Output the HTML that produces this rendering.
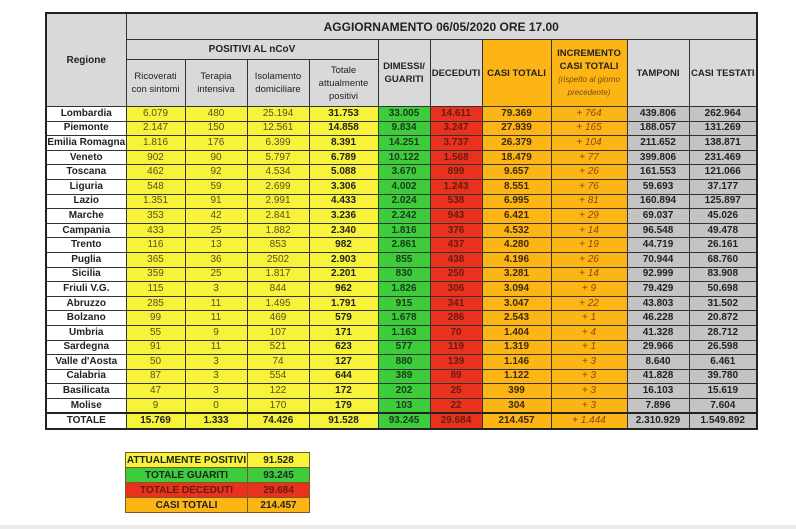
<!DOCTYPE html>
<html><head><meta charset="utf-8"><style>
body{margin:0;width:796px;height:529px;background:#fff;position:relative;overflow:hidden;font-family:"Liberation Sans",sans-serif;}
table{border-collapse:collapse;table-layout:fixed;position:absolute;}
#t{left:45px;top:12px;width:711px;border:2px solid #222;}
#t td{border:1px solid #333;text-align:center;padding:0;font-size:10px;color:#333;overflow:hidden;white-space:nowrap;}
.h{background:#d9d9d9;font-weight:bold;color:#222 !important;}
.hs{background:#d9d9d9;font-weight:bold;white-space:normal !important;line-height:13px;color:#222 !important;font-size:9.5px !important;}
.r{background:#fff;font-weight:bold;color:#222 !important;}
.y{background:#f7f33a;color:#5a5020 !important;}
.yb{background:#f7f33a;font-weight:bold;color:#222 !important;}
.g{background:#3ccc3c;font-weight:bold;color:#1a3a1a !important;}
.d{background:#e8321e;font-weight:bold;color:#6a1a10 !important;}
.o{background:#fdb515;font-weight:bold;color:#3a2a10 !important;}
.oh{background:#fdb515;font-weight:bold;}
.i{background:#fdb515;font-style:italic;color:#8a4a10 !important;}
.gr{background:#c4c4c4;font-weight:bold;color:#222 !important;}
#t tr.dr td{height:13.6px;line-height:12px;}
#b{left:125px;top:452px;width:184px;border:1.5px solid #7a5a20;}
#b td{border:1px solid #7a5a20;height:14px;font-size:10px;font-weight:bold;text-align:center;padding:0;color:#222;}
</style></head><body>
<table id="t">
<colgroup><col style="width:80px"><col style="width:59px"><col style="width:62px"><col style="width:62px"><col style="width:69px"><col style="width:52px"><col style="width:52px"><col style="width:69px"><col style="width:76px"><col style="width:62px"><col style="width:68px"></colgroup>
<tr><td class="h" rowspan="3" style="font-size:10px">Regione</td><td class="h" colspan="10" style="height:25px;font-size:12px">AGGIORNAMENTO 06/05/2020 ORE 17.00</td></tr>
<tr><td class="h" colspan="4" style="height:19px">POSITIVI AL nCoV</td><td class="hs" rowspan="2">DIMESSI/<br>GUARITI</td><td class="hs" rowspan="2">DECEDUTI</td><td class="hs oh" rowspan="2">CASI TOTALI</td><td class="hs oh" rowspan="2">INCREMENTO<br>CASI TOTALI<br><span style="font-weight:normal;font-style:italic;font-size:8px;line-height:11px;color:#7a4a10">(rispetto al giorno<br>precedente)</span></td><td class="hs" rowspan="2">TAMPONI</td><td class="hs" rowspan="2" style="white-space:nowrap !important">CASI TESTATI</td></tr>
<tr><td class="hs" style="height:46px;font-weight:normal">Ricoverati<br>con sintomi</td><td class="hs" style="font-weight:normal">Terapia<br>intensiva</td><td class="hs" style="font-weight:normal">Isolamento<br>domiciliare</td><td class="hs" style="font-weight:normal">Totale<br>attualmente<br>positivi</td></tr>
<tr class="dr"><td class="r">Lombardia</td><td class="y">6.079</td><td class="y">480</td><td class="y">25.194</td><td class="yb">31.753</td><td class="g">33.005</td><td class="d">14.611</td><td class="o">79.369</td><td class="i">+ 764</td><td class="gr">439.806</td><td class="gr">262.964</td></tr>
<tr class="dr"><td class="r">Piemonte</td><td class="y">2.147</td><td class="y">150</td><td class="y">12.561</td><td class="yb">14.858</td><td class="g">9.834</td><td class="d">3.247</td><td class="o">27.939</td><td class="i">+ 165</td><td class="gr">188.057</td><td class="gr">131.269</td></tr>
<tr class="dr"><td class="r">Emilia Romagna</td><td class="y">1.816</td><td class="y">176</td><td class="y">6.399</td><td class="yb">8.391</td><td class="g">14.251</td><td class="d">3.737</td><td class="o">26.379</td><td class="i">+ 104</td><td class="gr">211.652</td><td class="gr">138.871</td></tr>
<tr class="dr"><td class="r">Veneto</td><td class="y">902</td><td class="y">90</td><td class="y">5.797</td><td class="yb">6.789</td><td class="g">10.122</td><td class="d">1.568</td><td class="o">18.479</td><td class="i">+ 77</td><td class="gr">399.806</td><td class="gr">231.469</td></tr>
<tr class="dr"><td class="r">Toscana</td><td class="y">462</td><td class="y">92</td><td class="y">4.534</td><td class="yb">5.088</td><td class="g">3.670</td><td class="d">899</td><td class="o">9.657</td><td class="i">+ 26</td><td class="gr">161.553</td><td class="gr">121.066</td></tr>
<tr class="dr"><td class="r">Liguria</td><td class="y">548</td><td class="y">59</td><td class="y">2.699</td><td class="yb">3.306</td><td class="g">4.002</td><td class="d">1.243</td><td class="o">8.551</td><td class="i">+ 76</td><td class="gr">59.693</td><td class="gr">37.177</td></tr>
<tr class="dr"><td class="r">Lazio</td><td class="y">1.351</td><td class="y">91</td><td class="y">2.991</td><td class="yb">4.433</td><td class="g">2.024</td><td class="d">538</td><td class="o">6.995</td><td class="i">+ 81</td><td class="gr">160.894</td><td class="gr">125.897</td></tr>
<tr class="dr"><td class="r">Marche</td><td class="y">353</td><td class="y">42</td><td class="y">2.841</td><td class="yb">3.236</td><td class="g">2.242</td><td class="d">943</td><td class="o">6.421</td><td class="i">+ 29</td><td class="gr">69.037</td><td class="gr">45.026</td></tr>
<tr class="dr"><td class="r">Campania</td><td class="y">433</td><td class="y">25</td><td class="y">1.882</td><td class="yb">2.340</td><td class="g">1.816</td><td class="d">376</td><td class="o">4.532</td><td class="i">+ 14</td><td class="gr">96.548</td><td class="gr">49.478</td></tr>
<tr class="dr"><td class="r">Trento</td><td class="y">116</td><td class="y">13</td><td class="y">853</td><td class="yb">982</td><td class="g">2.861</td><td class="d">437</td><td class="o">4.280</td><td class="i">+ 19</td><td class="gr">44.719</td><td class="gr">26.161</td></tr>
<tr class="dr"><td class="r">Puglia</td><td class="y">365</td><td class="y">36</td><td class="y">2502</td><td class="yb">2.903</td><td class="g">855</td><td class="d">438</td><td class="o">4.196</td><td class="i">+ 26</td><td class="gr">70.944</td><td class="gr">68.760</td></tr>
<tr class="dr"><td class="r">Sicilia</td><td class="y">359</td><td class="y">25</td><td class="y">1.817</td><td class="yb">2.201</td><td class="g">830</td><td class="d">250</td><td class="o">3.281</td><td class="i">+ 14</td><td class="gr">92.999</td><td class="gr">83.908</td></tr>
<tr class="dr"><td class="r">Friuli V.G.</td><td class="y">115</td><td class="y">3</td><td class="y">844</td><td class="yb">962</td><td class="g">1.826</td><td class="d">306</td><td class="o">3.094</td><td class="i">+ 9</td><td class="gr">79.429</td><td class="gr">50.698</td></tr>
<tr class="dr"><td class="r">Abruzzo</td><td class="y">285</td><td class="y">11</td><td class="y">1.495</td><td class="yb">1.791</td><td class="g">915</td><td class="d">341</td><td class="o">3.047</td><td class="i">+ 22</td><td class="gr">43.803</td><td class="gr">31.502</td></tr>
<tr class="dr"><td class="r">Bolzano</td><td class="y">99</td><td class="y">11</td><td class="y">469</td><td class="yb">579</td><td class="g">1.678</td><td class="d">286</td><td class="o">2.543</td><td class="i">+ 1</td><td class="gr">46.228</td><td class="gr">20.872</td></tr>
<tr class="dr"><td class="r">Umbria</td><td class="y">55</td><td class="y">9</td><td class="y">107</td><td class="yb">171</td><td class="g">1.163</td><td class="d">70</td><td class="o">1.404</td><td class="i">+ 4</td><td class="gr">41.328</td><td class="gr">28.712</td></tr>
<tr class="dr"><td class="r">Sardegna</td><td class="y">91</td><td class="y">11</td><td class="y">521</td><td class="yb">623</td><td class="g">577</td><td class="d">119</td><td class="o">1.319</td><td class="i">+ 1</td><td class="gr">29.966</td><td class="gr">26.598</td></tr>
<tr class="dr"><td class="r">Valle d'Aosta</td><td class="y">50</td><td class="y">3</td><td class="y">74</td><td class="yb">127</td><td class="g">880</td><td class="d">139</td><td class="o">1.146</td><td class="i">+ 3</td><td class="gr">8.640</td><td class="gr">6.461</td></tr>
<tr class="dr"><td class="r">Calabria</td><td class="y">87</td><td class="y">3</td><td class="y">554</td><td class="yb">644</td><td class="g">389</td><td class="d">89</td><td class="o">1.122</td><td class="i">+ 3</td><td class="gr">41.828</td><td class="gr">39.780</td></tr>
<tr class="dr"><td class="r">Basilicata</td><td class="y">47</td><td class="y">3</td><td class="y">122</td><td class="yb">172</td><td class="g">202</td><td class="d">25</td><td class="o">399</td><td class="i">+ 3</td><td class="gr">16.103</td><td class="gr">15.619</td></tr>
<tr class="dr"><td class="r">Molise</td><td class="y">9</td><td class="y">0</td><td class="y">170</td><td class="yb">179</td><td class="g">103</td><td class="d">22</td><td class="o">304</td><td class="i">+ 3</td><td class="gr">7.896</td><td class="gr">7.604</td></tr>
<tr class="dr" style="border-top:2px solid #222"><td class="r">TOTALE</td><td class="yb">15.769</td><td class="yb">1.333</td><td class="yb">74.426</td><td class="yb">91.528</td><td class="g">93.245</td><td class="d">29.684</td><td class="o">214.457</td><td class="i">+ 1.444</td><td class="gr">2.310.929</td><td class="gr">1.549.892</td></tr>
</table>
<table id="b">
<colgroup><col style="width:122px"><col style="width:62px"></colgroup>
<tr><td style="background:#f7f33a">ATTUALMENTE POSITIVI</td><td style="background:#f7f33a">91.528</td></tr>
<tr><td style="background:#3ccc3c">TOTALE GUARITI</td><td style="background:#3ccc3c">93.245</td></tr>
<tr><td style="background:#e8321e;color:#6a1a10">TOTALE DECEDUTI</td><td style="background:#e8321e;color:#6a1a10">29.684</td></tr>
<tr><td style="background:#fdb515">CASI TOTALI</td><td style="background:#fdb515">214.457</td></tr>
</table>
<div style="position:absolute;left:0;top:525px;width:796px;height:4px;background:#ececec"></div>
</body></html>
